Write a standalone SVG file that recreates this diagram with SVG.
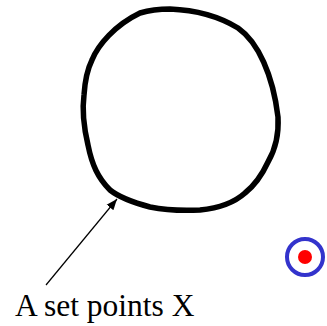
<svg xmlns="http://www.w3.org/2000/svg" width="327" height="326" viewBox="0 0 327 326">
<defs>
<marker id="ah" viewBox="0 0 10 10" refX="10" refY="5" markerWidth="11" markerHeight="11" markerUnits="userSpaceOnUse" orient="auto">
<path d="M0,1 L10,5 L0,9 Z" fill="#000"/>
</marker>
<style>
.blob{fill:none;stroke:#000;stroke-width:5.5;stroke-linejoin:round}
.lbl{font-family:"Liberation Serif","Times New Roman",serif;font-size:31.5px;fill:#000}
</style>
</defs>
<g id="setX">
<path class="blob" d="M140,13 C150,10 160,9 170,9 C195,10 220,17 238,28 C258,42 273,75 278,117 C279,135 275,150 268,162 C262,175 255,185 245,193 C235,202 220,208 200,210 C180,211 165,210 150,207 C135,203 120,198 110,190 C98,178 92,165 88,145 C84,128 82,110 84,95 C85,80 87,70 92,60 C98,45 115,25 140,13 Z"/>
</g>
<g id="point">
<circle cx="305" cy="257" r="18" fill="none" stroke="#3333cc" stroke-width="4"/>
<circle cx="305" cy="257" r="7" fill="#ff0000"/>
</g>
<g id="connectors">
<line x1="46" y1="285" x2="117" y2="199" stroke="#000" stroke-width="1.2" marker-end="url(#ah)"/>
</g>
<g id="label">
<text class="lbl" x="15" y="316">A set points X</text>
</g>
</svg>
